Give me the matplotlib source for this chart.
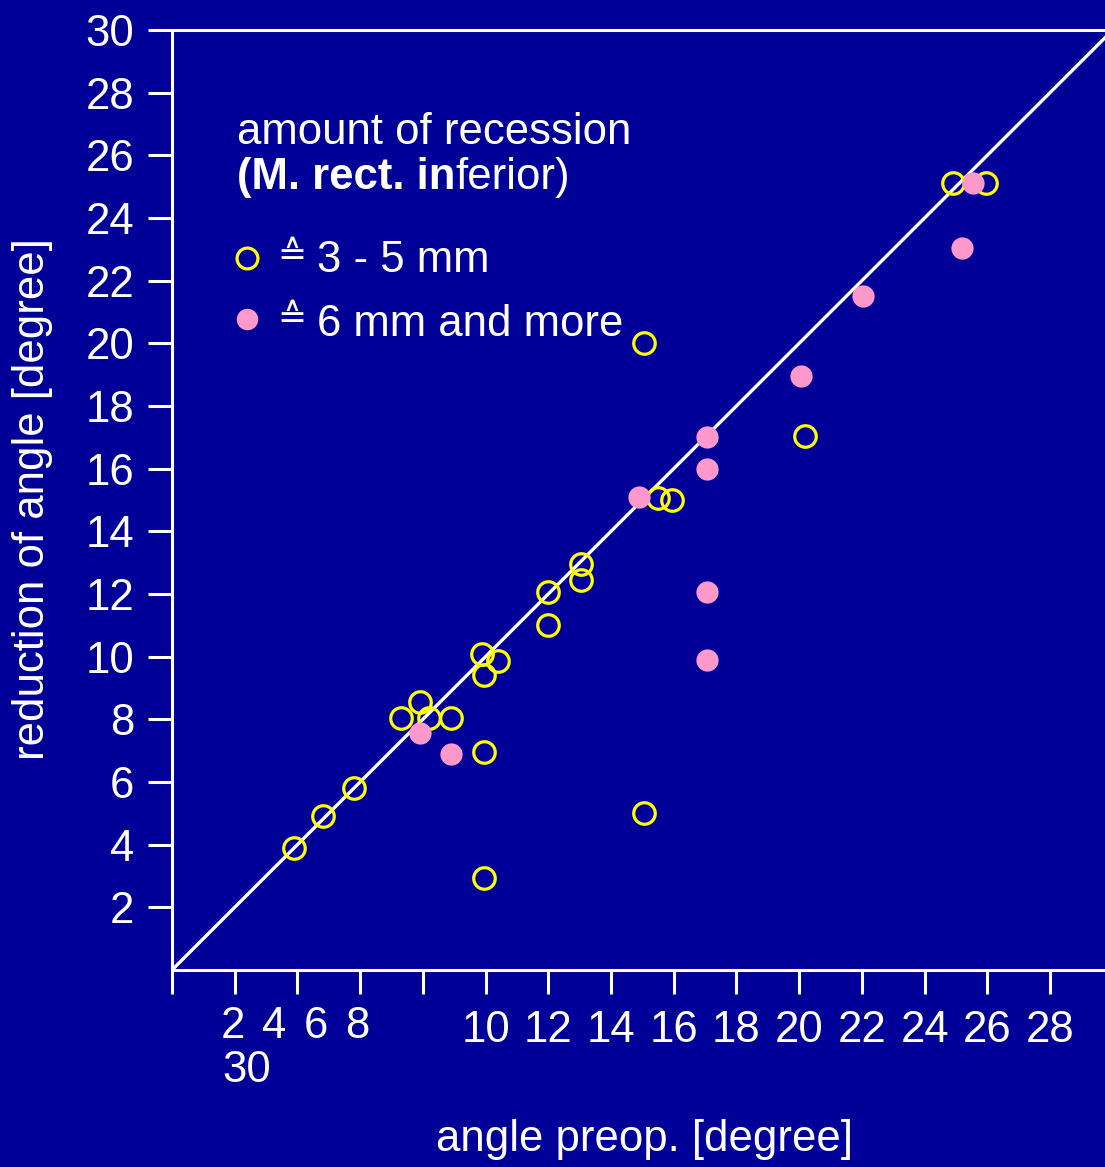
import matplotlib
matplotlib.use("Agg")
import matplotlib.pyplot as plt

# ---- data ----
small_x = [3.9, 4.8, 5.8, 7.3, 7.9, 8.2, 8.9, 9.9, 9.95, 10.4, 9.95, 9.95,
           12.0, 12.0, 13.05, 13.05, 15.05, 15.5, 15.95, 15.05, 20.2, 24.9, 25.95]
small_y = [3.9, 4.9, 5.8, 8.05, 8.55, 8.05, 8.05, 10.1, 9.4, 9.85, 6.95, 2.95,
           12.05, 11.0, 12.95, 12.45, 20.0, 15.07, 15.0, 5.0, 17.05, 25.12, 25.12]
large_x = [7.9, 8.9, 14.9, 17.05, 17.05, 17.05, 17.05, 20.05, 22.05, 25.2, 25.55]
large_y = [7.55, 6.9, 15.1, 17.0, 16.0, 12.05, 9.9, 18.95, 21.5, 23.05, 25.12]
ident = [0, 30]
y_ticks = list(range(2, 31, 2))
x_ticks = list(range(0, 29, 2))
x_tick_labels = ["", "", "", "", ""] + [str(v) for v in range(10, 29, 2)]
odd_labels = ["2", "4", "6", "8"]
legend_title = "amount of recession"
legend_labels = ["3 - 5 mm", "6 mm and more"]

BG = "#000099"
FG = "white"
YEL = "#FFFF00"
PINK = "#FF99CC"
FS = 31.5
FAM = ["Liberation Sans", "DejaVu Sans"]
plt.rcParams["font.family"] = FAM

W, H = 1105, 1167
fig = plt.figure(figsize=(W / 100, H / 100), dpi=100, facecolor=BG)
x0, x1 = 172, 1105
y0, y1 = 970, 30
ax = fig.add_axes([x0 / W, 1 - y0 / H, (x1 - x0) / W, (y0 - y1) / H], facecolor=BG)
ppu = (1050 - 172) / 28.0
ax.set_xlim(0, (x1 - x0) / ppu)
ax.set_ylim(0, 30)

for s in ["left", "bottom", "top"]:
    ax.spines[s].set_color(FG)
    ax.spines[s].set_linewidth(2.2)
ax.spines["right"].set_visible(False)

ax.plot(ident, ident, color=FG, lw=2.4, zorder=2)

ax.plot(small_x, small_y, linestyle="none", marker="o", ms=15.5, mfc="none",
        mec=YEL, mew=2.3, zorder=3, clip_on=False)
ax.plot(large_x, large_y, linestyle="none", marker="o", ms=16, mfc=PINK,
        mec="none", zorder=4, clip_on=False)

ax.set_yticks(y_ticks)
ax.set_yticklabels([str(v) for v in y_ticks])
ax.set_xticks(x_ticks)
ax.set_xticklabels(x_tick_labels)
ax.tick_params(axis="both", colors=FG, labelcolor=FG, length=17, width=2.2,
               labelsize=FS, direction="out")
ax.tick_params(axis="y", pad=10)
ax.tick_params(axis="x", pad=12)

# odd x labels at left
for lab, cx in zip(odd_labels, [233, 274, 316, 357]):
    fig.text(cx / W, 1 - 1027 / H, lab, color=FG, fontsize=FS, ha="center", va="center")
fig.text(222 / W, 1 - 1070 / H, "30", color=FG, fontsize=FS, ha="left", va="center")

fig.text(645 / W, 1 - 1140 / H, "angle preop. [degree]", color=FG, fontsize=FS,
         ha="center", va="center")
fig.text(33 / W, 1 - 499 / H, "reduction of angle [degree]", color=FG, fontsize=FS,
         ha="center", va="center", rotation=90)

# legend block
fig.text(237 / W, 1 - 133 / H, legend_title, color=FG, fontsize=FS, ha="left", va="center")
t1 = fig.text(237 / W, 1 - 178 / H, "(M. rect. in", color=FG, fontsize=FS,
              fontweight="bold", ha="left", va="center")
fig.canvas.draw()
ax.annotate("ferior)", xy=(1, 0.5), xycoords=t1, color=FG, fontsize=FS,
            ha="left", va="center", annotation_clip=False)

ax.plot([(247 - x0) / (x1 - x0)], [(y0 - 258) / (y0 - y1)], transform=ax.transAxes,
        linestyle="none", marker="o", ms=15, mfc="none", mec=YEL, mew=2.3, clip_on=False)
ax.plot([(247 - x0) / (x1 - x0)], [(y0 - 319) / (y0 - y1)], transform=ax.transAxes,
        linestyle="none", marker="o", ms=15.5, mfc=PINK, mec="none", clip_on=False)
for yy, lab in zip([261, 324], legend_labels):
    fig.text(292 / W, 1 - (yy - 6) / H, "\u2259", color=FG, fontsize=25, ha="center",
             va="center", family=["DejaVu Sans"])
    fig.text(317 / W, 1 - yy / H, lab, color=FG, fontsize=FS, ha="left", va="center")

fig.savefig("out.png", dpi=100, facecolor=BG)
